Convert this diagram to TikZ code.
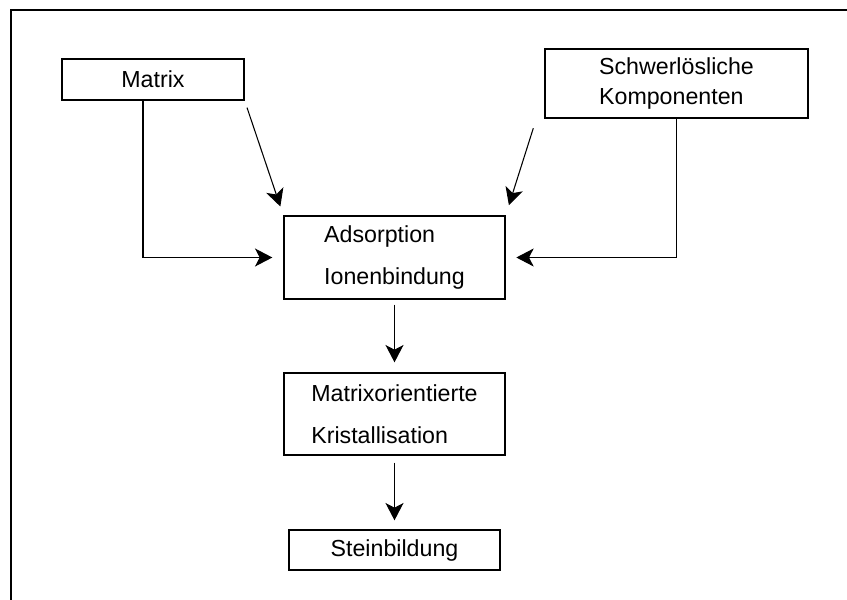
\documentclass[tikz,border=0pt]{standalone}
\usepackage{fontspec}
\setmainfont{Liberation Sans}
\usetikzlibrary{arrows.meta}
\usetikzlibrary{positioning}
\tikzset{>={Stealth[inset=3.5pt,length=13pt,width=13.5pt]}}

\begin{document}
\begin{tikzpicture}[x=0.75pt,y=-0.75pt,yscale=1,xscale=1,
  box/.style={draw,line width=1pt,align=left,inner sep=0pt,font=\fontsize{17.4}{31.5}\selectfont},
  link/.style={->,line width=0.8pt}]
\useasboundingbox (0,0) rectangle (847,600);

%Straight Lines (frame)
\draw [line width=2.2pt]  (11,601) -- (11,10) -- (848,10) ;

%Shape: Rectangle [id:matrix]
\node [box, minimum width=136.5pt, minimum height=30.75pt] (matrix) at (153,79.5) {Matrix};
%Shape: Rectangle [id:schwer]
\node [box, minimum width=197.25pt, minimum height=51.75pt, font=\fontsize{17.4}{22.5}\selectfont] (schwer) at (676.5,83.5) {Schwerlösliche\\Komponenten};
%Shape: Rectangle [id:ads]
\node [box, minimum width=165.75pt, minimum height=62.25pt] (ads) at (394.5,257.5) {Adsorption\\Ionenbindung};
%Shape: Rectangle [id:kris]
\node [box, minimum width=165.75pt, minimum height=61.5pt] (kris) at (394.5,414) {Matrixorientierte\\Kristallisation};
%Shape: Rectangle [id:stein]
\node [box, minimum width=158.25pt, minimum height=30pt] (stein) at (394.5,550) {Steinbildung};

%Straight Lines
\draw [link, shorten >=8.25pt]  ([xshift=-7.5pt]matrix.south) |- (ads.west) ;
\draw [link, shorten >=8pt]  (schwer.south) |- (ads.east) ;
\draw [link, shorten <=5.5pt, shorten >=7pt]  (matrix.south east) -- (ads.north west) ;
\draw [link, shorten <=7.5pt, shorten >=8pt]  ([xshift=-6pt]schwer.south west) -- (ads.north east) ;
\draw [link, shorten <=3.75pt, shorten >=7.5pt]  (ads) -- (kris) ;
\draw [link, shorten <=5.25pt, shorten >=6.75pt]  (kris) -- (stein) ;
\end{tikzpicture}
\end{document}
